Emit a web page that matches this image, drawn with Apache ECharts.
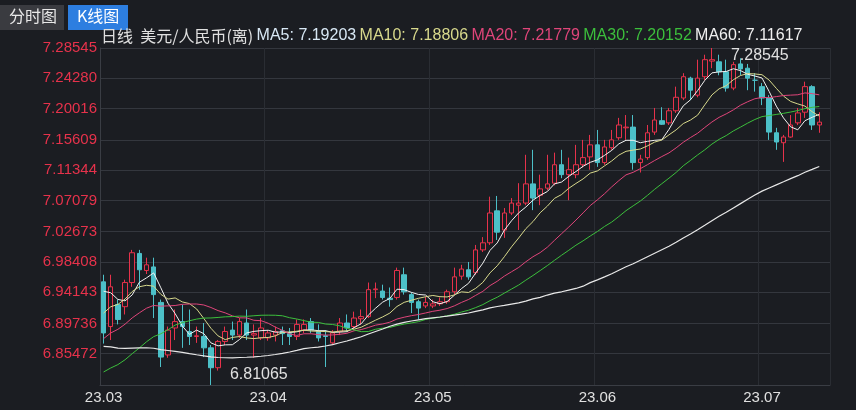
<!DOCTYPE html>
<html>
<head>
<meta charset="utf-8">
<script src="https://cdn.jsdelivr.net/npm/echarts@6/dist/echarts.min.js"></script>
<style>
  html, body { margin: 0; padding: 0; background: #1b1d22; }
  #main { width: 856px; height: 410px; }
</style>
</head>
<body>
<div id="main"></div>
<script>
// 2023.03 起的日K数据 [open, close, low, high]
const kData = [
  [6.956,6.884,6.869,6.966],[6.893,6.949,6.874,6.966],[6.924,6.903,6.896,6.931],[6.921,6.955,6.910,6.959],
  [6.955,6.997,6.949,7.001],[6.996,6.973,6.945,7.001],[6.972,6.980,6.967,6.990],[6.977,6.938,6.905,6.990],
  [6.927,6.850,6.836,6.931],[6.853,6.888,6.849,6.893],[6.891,6.900,6.874,6.917],[6.900,6.893,6.863,6.924],
  [6.886,6.879,6.867,6.917],[6.879,6.880,6.870,6.893],[6.879,6.863,6.850,6.898],[6.863,6.835,6.81065,6.867],
  [6.835,6.872,6.831,6.874],[6.872,6.886,6.867,6.893],[6.888,6.881,6.874,6.900],[6.881,6.900,6.877,6.905],
  [6.898,6.881,6.874,6.917],[6.881,6.883,6.849,6.896],[6.877,6.891,6.874,6.905],[6.877,6.884,6.873,6.888],
  [6.881,6.886,6.872,6.893],[6.887,6.883,6.867,6.893],[6.883,6.879,6.867,6.891],[6.879,6.896,6.874,6.903],
  [6.888,6.896,6.884,6.903],[6.900,6.888,6.884,6.905],[6.886,6.877,6.872,6.896],[6.880,6.879,6.836,6.888],
  [6.870,6.884,6.867,6.888],[6.886,6.898,6.881,6.905],[6.898,6.891,6.886,6.910],[6.893,6.905,6.888,6.914],
  [6.904,6.907,6.896,6.917],[6.907,6.945,6.905,6.955],[6.945,6.946,6.933,6.955],[6.943,6.934,6.931,6.952],
  [6.933,6.931,6.921,6.948],[6.934,6.972,6.931,6.976],[6.966,6.942,6.938,6.976],[6.938,6.927,6.912,6.941],
  [6.928,6.919,6.903,6.931],[6.922,6.927,6.919,6.935],[6.922,6.925,6.919,6.931],[6.925,6.928,6.922,6.934],
  [6.928,6.942,6.925,6.945],[6.942,6.963,6.938,6.976],[6.964,6.974,6.959,6.980],[6.973,6.963,6.959,6.984],
  [6.969,7.001,6.966,7.008],[7.001,7.011,6.998,7.019],[7.011,7.053,7.008,7.076],[7.056,7.026,7.015,7.077],
  [7.029,7.053,7.018,7.060],[7.053,7.067,7.050,7.074],[7.064,7.067,7.029,7.095],[7.067,7.094,7.064,7.135],
  [7.094,7.074,7.057,7.142],[7.078,7.087,7.064,7.107],[7.088,7.094,7.085,7.135],[7.095,7.121,7.092,7.138],
  [7.121,7.107,7.102,7.142],[7.107,7.114,7.071,7.131],[7.107,7.121,7.102,7.149],[7.121,7.131,7.117,7.156],
  [7.132,7.149,7.114,7.163],[7.149,7.124,7.118,7.170],[7.124,7.146,7.121,7.156],[7.145,7.156,7.142,7.170],
  [7.159,7.177,7.156,7.187],[7.173,7.174,7.156,7.191],[7.174,7.124,7.114,7.191],[7.124,7.129,7.110,7.135],
  [7.131,7.166,7.128,7.177],[7.167,7.184,7.163,7.201],[7.183,7.178,7.177,7.202],[7.180,7.197,7.177,7.201],
  [7.197,7.216,7.194,7.231],[7.215,7.245,7.212,7.250],[7.243,7.226,7.212,7.245],[7.219,7.243,7.216,7.269],
  [7.245,7.269,7.240,7.276],[7.267,7.269,7.257,7.28545],[7.266,7.252,7.247,7.276],[7.252,7.229,7.224,7.269],
  [7.229,7.262,7.226,7.266],[7.263,7.256,7.247,7.271],[7.257,7.243,7.226,7.263],[7.240,7.240,7.224,7.250],
  [7.231,7.215,7.205,7.236],[7.215,7.167,7.156,7.219],[7.166,7.153,7.142,7.173],[7.152,7.160,7.125,7.163],
  [7.160,7.177,7.159,7.191],[7.180,7.194,7.177,7.201],[7.195,7.231,7.187,7.238],[7.231,7.177,7.170,7.233],
  [7.177,7.181,7.166,7.195]
];

// 3月之前的收盘价（用于计算均线）
const historyCloses = [
  6.99,7.00,6.98,6.97,6.96,6.97,6.98,6.97,6.96,6.97,
  6.98,6.99,6.97,6.95,6.93,6.92,6.91,6.89,6.87,6.86,
  6.85,6.84,6.82,6.80,6.78,6.77,6.76,6.75,6.81,6.83,
  6.78,6.76,6.75,6.74,6.73,6.72,6.72,6.73,6.72,6.70,
  6.79,6.80,6.81,6.82,6.83,6.85,6.86,6.87,6.88,6.89,
  6.86,6.87,6.88,6.89,6.906,6.96,6.95,6.965,6.955
];

const yTicks = [6.85472,6.89736,6.94143,6.98408,7.02673,7.07079,7.11344,7.15609,7.20016,7.24280,7.28545];
const monthLabels = { 0: "23.03", 23: "23.04", 46: "23.05", 69: "23.06", 92: "23.07" };
const maDays = [5, 10, 20, 30, 60];
const maColors = ["#f2f2f2", "#d8d98c", "#e0457a", "#3cbf3c", "#e8e8e8"];
const maTitle = { 5: "7.19203", 10: "7.18806", 20: "7.21779", 30: "7.20152", 60: "7.11617" };

const categories = kData.map((d, i) => String(i)).concat([""]);
const allCloses = historyCloses.concat(kData.map(d => d[1]));

function calcMA(n) {
  const off = historyCloses.length;
  return kData.map((d, i) => {
    let s = 0;
    for (let k = 0; k < n; k++) s += allCloses[off + i - k];
    return +(s / n).toFixed(5);
  });
}

const upColor = "#e6324b";
const downColor = "#4cc0c8";
const labelFont = "Arial, Liberation Sans";

let myChart = echarts.init(document.getElementById("main"));

const maSeries = maDays.map((n, j) => ({
  name: "MA" + n,
  type: "line",
  data: calcMA(n),
  symbol: "none",
  lineStyle: { width: n === 60 ? 1.2 : 1, color: maColors[j] },
  z: 3
}));

let option = {
  backgroundColor: "#1b1d22",
  animation: false,
  grid: { left: 100, right: 26, top: 48, bottom: 25 },
  xAxis: {
    type: "category",
    data: categories,
    boundaryGap: true,
    axisLine: { show: true, lineStyle: { color: "#3a3d44" } },
    axisTick: { show: false },
    axisLabel: {
      color: "#e0e0e0",
      fontSize: 15,
      fontFamily: labelFont,
      margin: 5,
      interval: (i) => monthLabels[i] !== undefined,
      formatter: (v, i) => monthLabels[i] || ""
    },
    splitLine: {
      show: true,
      interval: (i) => monthLabels[i] !== undefined && i > 0,
      lineStyle: { color: "#2a2d33" }
    }
  },
  yAxis: {
    type: "value",
    min: 6.81065,
    max: 7.28545,
    axisLine: { show: true, lineStyle: { color: "#3a3d44" } },
    axisTick: { show: false, customValues: yTicks },
    axisLabel: {
      customValues: yTicks,
      color: upColor,
      fontSize: 15,
      fontFamily: labelFont,
      margin: 3,
      formatter: (v) => v.toFixed(5)
    },
    splitLine: { show: true, lineStyle: { color: "#34373e" } }
  },
  series: [
    {
      name: "日线",
      type: "candlestick",
      data: kData,
      barWidth: 5,
      itemStyle: {
        color: "#1b1d22",
        color0: downColor,
        borderColor: upColor,
        borderColor0: downColor,
        borderWidth: 1
      },
      markPoint: {
        symbol: "circle",
        symbolSize: 0,
        label: { show: true, color: "#e0e0e0", fontSize: 16, fontFamily: labelFont },
        data: [
          { coord: [85, 7.28545], value: "7.28545", label: { position: "right", offset: [14, 8] } },
          { coord: [15, 6.81065], value: "6.81065", label: { position: "right", offset: [14, -10] } }
        ]
      },
      z: 2
    }
  ].concat(maSeries),
  graphic: [
    { type: "rect", left: 0, top: 5, shape: { width: 64, height: 25 }, style: { fill: "#3a3b40" } },
    { type: "text", left: 9, top: 8, style: { text: "分时图", fill: "#e8e8e8", font: "16px 'Noto Sans CJK SC'" } },
    { type: "rect", left: 68, top: 5, shape: { width: 60, height: 25 }, style: { fill: "#2d7ee0" } },
    { type: "text", left: 77, top: 8, style: { text: "K线图", fill: "#ffffff", font: "16px 'Noto Sans CJK SC'" } },
    {
      type: "text",
      left: 101,
      top: 28,
      style: {
        text: "{t|日线  美元/人民币(离)} " +
          maDays.map((n, j) => `{m${j}|MA${n}: ${maTitle[n]}}`).join(" "),
        rich: Object.assign(
          { t: { fill: "#e0e0e0", fontSize: 16, fontFamily: "Noto Sans CJK SC" } },
          ...maDays.map((n, j) => ({
            ["m" + j]: {
              fill: j === 0 ? "#d8e8f5" : (j === 4 ? "#f0f0f0" : maColors[j]),
              fontSize: 16,
              fontFamily: labelFont
            }
          }))
        )
      }
    }
  ]
};

option && myChart.setOption(option);
</script>
</body>
</html>
